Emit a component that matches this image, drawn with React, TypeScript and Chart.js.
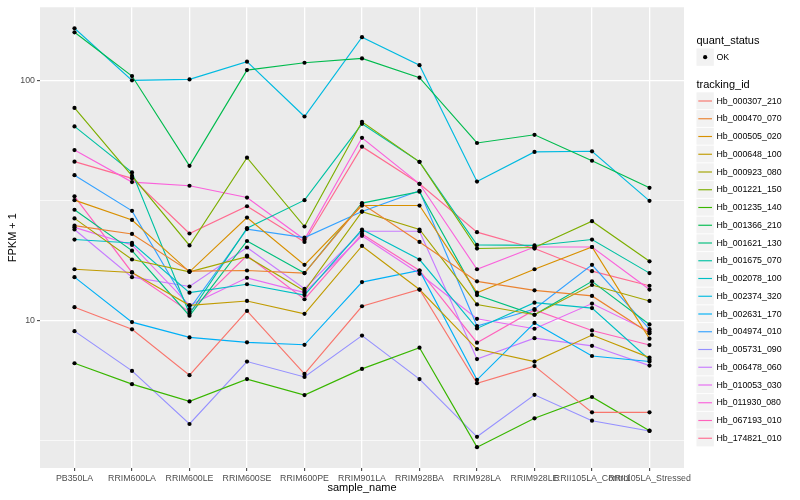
import React, { useEffect, useRef } from "react";
import { Chart, registerables } from "chart.js";

Chart.register(...registerables);

const samples = [
  "PB350LA", "RRIM600LA", "RRIM600LE", "RRIM600SE", "RRIM600PE", "RRIM901LA",
  "RRIM928BA", "RRIM928LA", "RRIM928LE", "RRII105LA_Control", "RRII105LA_Stressed",
];

const trackingIds = [
  "Hb_000307_210", "Hb_000470_070", "Hb_000505_020", "Hb_000648_100", "Hb_000923_080",
  "Hb_001221_150", "Hb_001235_140", "Hb_001366_210", "Hb_001621_130", "Hb_001675_070",
  "Hb_002078_100", "Hb_002374_320", "Hb_002631_170", "Hb_004974_010", "Hb_005731_090",
  "Hb_006478_060", "Hb_010053_030", "Hb_011930_080", "Hb_067193_010", "Hb_174821_010",
];

const trackingColors = [
  "#F8766D", "#EA8331", "#D89000", "#C09B00", "#A3A500",
  "#7CAE00", "#39B600", "#00BB4E", "#00BF7D", "#00C1A3",
  "#00BFC4", "#00BAE0", "#00B0F6", "#35A2FF", "#9590FF",
  "#C77CFF", "#E76BF3", "#FA62DB", "#FF62BC", "#FF6C91",
];

// FPKM + 1 values, one per sample
const hb_000307_210 = [11.4, 9.22, 5.94, 11.0, 6.01, 11.5, 13.5, 5.5, 6.48, 4.16, 4.16];
const hb_000470_070 = [24.9, 23.0, 16.1, 16.2, 15.8, 30.7, 21.3, 14.6, 13.4, 12.7, 8.87];
const hb_000505_020 = [31.8, 26.3, 16.0, 26.9, 17.1, 30.2, 30.2, 13.1, 16.4, 20.3, 8.43];
const hb_000648_100 = [16.4, 15.9, 11.6, 12.1, 10.7, 20.5, 13.5, 7.63, 6.77, 8.73, 7.03];
const hb_000923_080 = [26.7, 18.0, 16.0, 18.5, 13.3, 28.5, 24.0, 11.7, 10.6, 14.1, 12.1];
const hb_001221_150 = [77.0, 40.1, 20.6, 47.8, 24.7, 67.4, 45.9, 20.0, 20.2, 26.0, 17.7];
const hb_001235_140 = [6.66, 5.45, 4.62, 5.72, 4.91, 6.31, 7.73, 2.98, 3.93, 4.82, 3.49];
const hb_001366_210 = [158.9, 104.5, 44.2, 110.6, 118.7, 123.7, 102.9, 55.0, 59.5, 46.4, 35.8];
const hb_001621_130 = [29.0, 19.6, 10.5, 21.5, 15.8, 30.9, 34.5, 12.8, 10.6, 14.6, 9.66];
const hb_001675_070 = [64.5, 41.5, 10.7, 24.3, 31.8, 66.1, 45.9, 20.7, 20.6, 21.8, 15.8];
const hb_002078_100 = [21.8, 21.1, 13.1, 14.2, 12.8, 24.0, 18.0, 9.3, 11.9, 11.3, 6.89];
const hb_002374_320 = [165.2, 100.3, 101.2, 119.9, 70.9, 151.6, 116.0, 38.0, 50.5, 50.8, 31.6];
const hb_002631_170 = [15.2, 9.88, 8.53, 8.14, 7.95, 14.5, 16.2, 5.68, 9.8, 7.14, 6.77];
const hb_004974_010 = [40.4, 28.7, 11.2, 24.1, 22.2, 28.5, 34.8, 9.51, 11.2, 17.1, 9.23];
const hb_005731_090 = [9.06, 6.19, 3.72, 6.77, 5.84, 8.68, 5.72, 3.29, 4.92, 3.84, 3.48];
const hb_006478_060 = [24.0, 15.2, 13.9, 20.2, 13.6, 23.6, 23.6, 6.93, 8.47, 7.87, 6.51];
const hb_010053_030 = [24.5, 20.7, 11.6, 15.1, 13.1, 22.6, 15.7, 10.2, 9.27, 11.8, 9.02];
const hb_011930_080 = [51.4, 37.8, 36.5, 32.6, 21.8, 57.8, 37.2, 16.4, 20.3, 20.3, 13.5];
const hb_067193_010 = [33.0, 15.9, 10.9, 18.7, 12.3, 23.0, 16.2, 8.11, 11.1, 9.12, 7.93];
const hb_174821_010 = [46.0, 39.2, 23.1, 30.0, 21.3, 53.1, 37.2, 23.4, 20.0, 16.1, 14.0];

const seriesValues = [
  hb_000307_210, hb_000470_070, hb_000505_020, hb_000648_100, hb_000923_080,
  hb_001221_150, hb_001235_140, hb_001366_210, hb_001621_130, hb_001675_070,
  hb_002078_100, hb_002374_320, hb_002631_170, hb_004974_010, hb_005731_090,
  hb_006478_060, hb_010053_030, hb_011930_080, hb_067193_010, hb_174821_010,
];

const yMajorTicks = [10, 100];
const yMinorTicks = [3.1623, 31.623];
const yLimits = [2.44, 202];

const FONT = '"Liberation Sans", Arial, Helvetica, sans-serif';

export default function App() {
  const canvasRef = useRef<HTMLCanvasElement | null>(null);

  useEffect(() => {
    document.body.style.margin = "0";
    const canvas = canvasRef.current;
    if (!canvas) return;

    const lineSets = seriesValues.map((vals, k) => ({
      type: "line" as const,
      label: trackingIds[k],
      data: vals.map((v, i) => ({ x: i, y: v })),
      borderColor: trackingColors[k],
      borderWidth: 1.15,
      pointRadius: 0,
      tension: 0,
      fill: false,
      order: 1,
    }));
    const pointSets = seriesValues.map((vals, k) => ({
      type: "line" as const,
      label: trackingIds[k] + " OK",
      data: vals.map((v, i) => ({ x: i, y: v })),
      showLine: false,
      pointRadius: 2.1,
      pointBackgroundColor: "#000000",
      pointBorderWidth: 0,
      borderColor: "#000000",
      order: 0,
    }));

    const panelPlugin = {
      id: "panelBg",
      beforeDraw(chart: any) {
        const { ctx, chartArea } = chart;
        ctx.save();
        ctx.fillStyle = "#EBEBEB";
        ctx.fillRect(chartArea.left, chartArea.top, chartArea.right - chartArea.left, chartArea.bottom - chartArea.top);
        ctx.restore();
      },
      afterDraw(chart: any) {
        const { ctx, chartArea } = chart;
        ctx.save();
        // axis titles
        ctx.fillStyle = "#000000";
        ctx.font = `11px ${FONT}`;
        ctx.textAlign = "center";
        ctx.textBaseline = "middle";
        ctx.fillText("sample_name", (chartArea.left + chartArea.right) / 2, 488);
        ctx.save();
        ctx.translate(12.5, (chartArea.top + chartArea.bottom) / 2);
        ctx.rotate(-Math.PI / 2);
        ctx.fillText("FPKM + 1", 0, 0);
        ctx.restore();

        // legend
        const lx = 696.5;
        const key = 17.3;
        ctx.textAlign = "left";
        ctx.font = `11px ${FONT}`;
        ctx.fillText("quant_status", lx, 40.5);
        ctx.fillStyle = "#F2F2F2";
        ctx.fillRect(lx, 48.5, key, key);
        ctx.fillStyle = "#000000";
        ctx.beginPath();
        ctx.arc(lx + key / 2, 48.5 + key / 2, 2.1, 0, Math.PI * 2);
        ctx.fill();
        ctx.font = `8.8px ${FONT}`;
        ctx.fillText("OK", 716.5, 57.3);

        ctx.font = `11px ${FONT}`;
        ctx.fillText("tracking_id", lx, 84.5);
        const step = 17.75;
        trackingIds.forEach((id, i) => {
          const cy = 101 + i * step;
          ctx.fillStyle = "#F2F2F2";
          ctx.fillRect(lx, cy - key / 2, key, key - 0.5);
          ctx.strokeStyle = trackingColors[i];
          ctx.lineWidth = 1.15;
          ctx.beginPath();
          ctx.moveTo(lx + 1.8, cy);
          ctx.lineTo(lx + key - 1.8, cy);
          ctx.stroke();
          ctx.fillStyle = "#000000";
          ctx.font = `8.8px ${FONT}`;
          ctx.fillText(id, 716.5, cy + 0.3);
        });
        ctx.restore();
      },
    };

    const chart = new Chart(canvas, {
      type: "line",
      data: { datasets: [...pointSets, ...lineSets] as any },
      options: {
        animation: false,
        responsive: true,
        maintainAspectRatio: false,
        layout: { padding: { left: 0, top: 5, right: 116, bottom: 0 } },
        plugins: { legend: { display: false }, tooltip: { enabled: false } },
        scales: {
          x: {
            type: "linear",
            min: -0.6,
            max: samples.length - 1 + 0.6,
            border: { display: false },
            afterBuildTicks: (scale: any) => {
              scale.ticks = samples.map((_, i) => ({ value: i }));
            },
            afterFit: (scale: any) => {
              scale.height = 32;
            },
            grid: {
              color: "#FFFFFF",
              lineWidth: 1.3,
              drawTicks: true,
              tickLength: 3,
              tickColor: "#333333",
              tickWidth: 1,
            },
            ticks: {
              autoSkip: false,
              maxRotation: 0,
              minRotation: 0,
              padding: 2,
              color: "#4D4D4D",
              font: { size: 8.8, family: FONT },
              callback: (value: any) => samples[Math.round(Number(value))] ?? "",
            },
          },
          y: {
            type: "logarithmic",
            min: yLimits[0],
            max: yLimits[1],
            border: { display: false },
            afterBuildTicks: (scale: any) => {
              const all = [...yMinorTicks, ...yMajorTicks].sort((a, b) => a - b);
              scale.ticks = all.map((v) => ({ value: v, major: yMajorTicks.includes(v) }));
            },
            afterFit: (scale: any) => {
              scale.width = 40;
            },
            grid: {
              color: "#FFFFFF",
              lineWidth: (ctx: any) => (ctx.tick && yMajorTicks.includes(ctx.tick.value) ? 1.3 : 0.65),
              drawTicks: true,
              tickLength: 3,
              tickColor: (ctx: any) =>
                ctx.tick && yMajorTicks.includes(ctx.tick.value) ? "#333333" : "rgba(0,0,0,0)",
              tickWidth: 1,
            },
            ticks: {
              padding: 2,
              color: "#4D4D4D",
              font: { size: 8.8, family: FONT },
              callback: (value: any) => (yMajorTicks.includes(Number(value)) ? String(value) : ""),
            },
          },
        },
      },
      plugins: [panelPlugin],
    });

    return () => {
      chart.destroy();
    };
  }, []);

  return (
    <div style={{ width: 800, height: 500, position: "relative" }}>
      <canvas ref={canvasRef} />
    </div>
  );
}
